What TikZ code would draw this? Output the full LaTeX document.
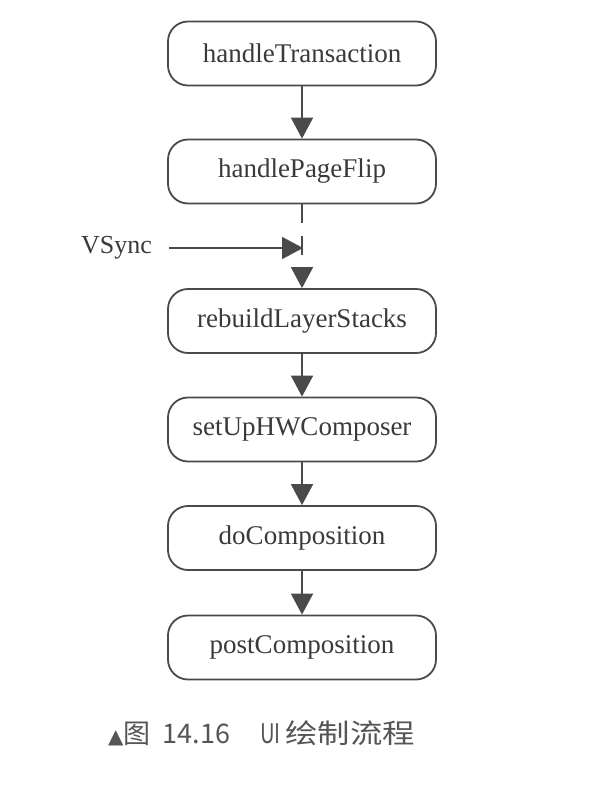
\documentclass[tikz,border=0pt]{standalone}
\usepackage{fontspec}
\usepackage{graphicx}
\setmainfont{Liberation Serif}
\newfontfamily\cjk{Noto Sans CJK SC}
\newfontfamily\cjkw[FakeStretch=1.2]{Noto Sans CJK SC}
\newfontfamily\dejavu{DejaVu Sans}
\usetikzlibrary{arrows.meta}
\definecolor{ln}{HTML}{4A4A4A}
\definecolor{tx}{HTML}{3A3A3A}
\definecolor{capc}{HTML}{555555}
\tikzset{
  stepbox/.style={draw=ln, line width=1.8pt, rounded corners=20pt,
    minimum width=268pt, minimum height=64pt, inner sep=0pt,
    text=tx, font=\fontsize{27}{30}\selectfont},
  arr/.style={draw=ln, line width=1.8pt, -{Triangle[width=22pt,length=21pt]}}
}
\begin{document}
\begin{tikzpicture}[x=1pt,y=-1pt]
\useasboundingbox (0,0) rectangle (604,792);
\fill[white] (0,0) rectangle (604,792);
\node[stepbox] (n1) at (302,53.5) {handleTransaction};
\node[stepbox] (n2) at (302,171.5) {handlePageFlip};
\node[stepbox] (n3) at (302,321) {rebuildLayerStacks};
\node[stepbox] (n4) at (302,429.5) {setUpHWComposer};
\node[stepbox] (n5) at (302,538) {doComposition};
\node[stepbox] (n6) at (302,647.5) {postComposition};
\draw[arr] (n1) -- (n2);
\draw[arr, dash pattern=on 19pt off 13pt] (n2) -- (n3);
\draw[arr] (n3) -- (n4);
\draw[arr] (n4) -- (n5);
\draw[arr] (n5) -- (n6);
\node[text=tx, font=\fontsize{26}{30}\selectfont, inner sep=0pt, anchor=east] (vs) at (152,248) {VSync};
\coordinate (j) at (303,248);
\draw[arr, shorten <=17pt] (vs) -- (j);
\node[text=capc, font=\cjk\fontsize{27}{30}\selectfont, inner sep=0pt, anchor=west] (cap) at (108,733)
  {{\dejavu\fontsize{20}{20}\selectfont ▲}图\hspace{12pt}14.16\hspace{30pt}\scalebox{0.75}[1]{UI}\hspace{5pt}{\cjkw 绘制流程}};
\end{tikzpicture}
\end{document}
